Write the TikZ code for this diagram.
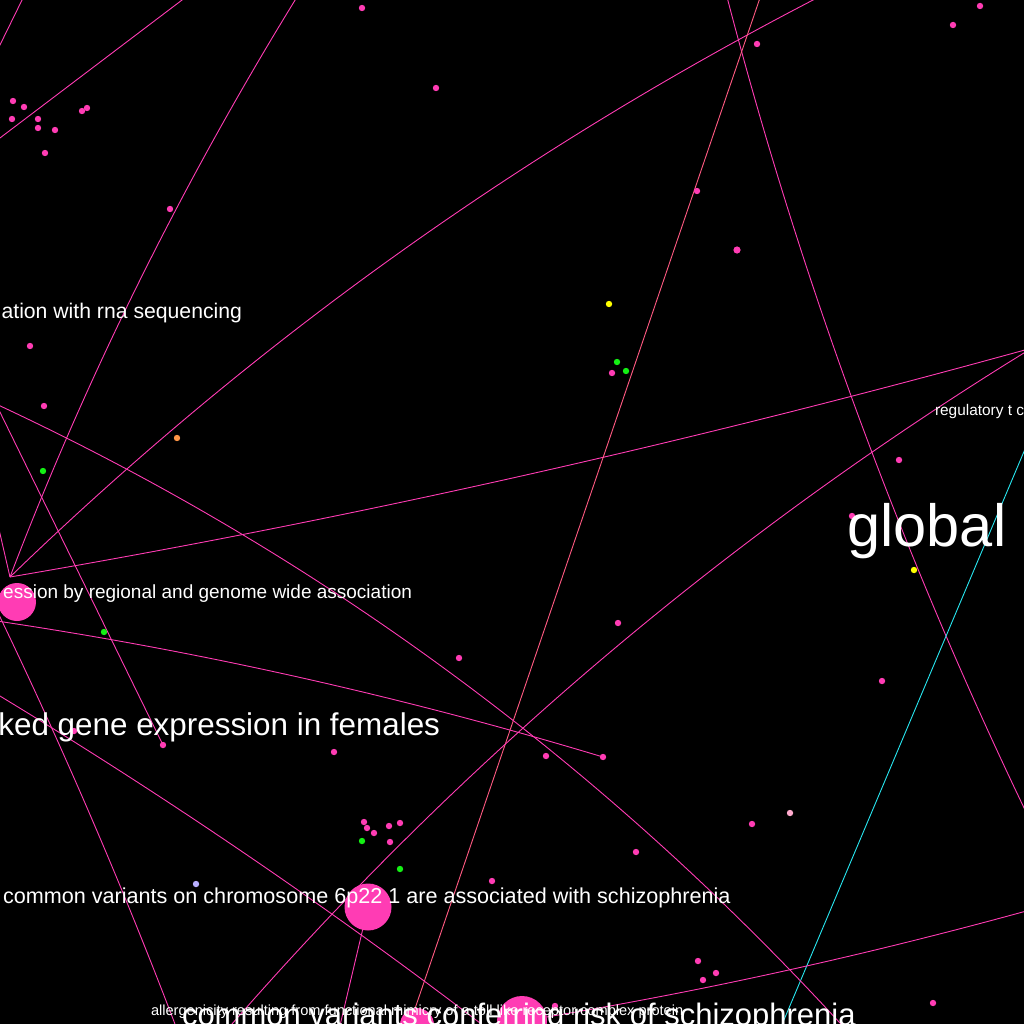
\documentclass[tikz,border=0pt]{standalone}
\usepackage{fontspec}
\setmainfont{Liberation Sans}
\usetikzlibrary{calc}
\definecolor{pk}{RGB}{255,60,180}
\definecolor{salmon}{RGB}{255,90,130}
\definecolor{cyanline}{RGB}{40,230,240}
\definecolor{gr}{RGB}{20,240,20}
\definecolor{yl}{RGB}{255,255,0}
\definecolor{orng}{RGB}{255,150,70}
\definecolor{lpurple}{RGB}{185,175,255}
\definecolor{lpink}{RGB}{255,170,205}
\tikzset{
  edge/.style={draw=pk, line width=0.9pt},
  dot/.style={circle, fill=pk, inner sep=0pt, minimum size=6.4pt},
  bignode/.style={circle, fill=pk, inner sep=0pt},
  lbl/.style={text=white, inner sep=0pt, outer sep=0pt}
}
\newcommand\qedge[4][]{%
  \coordinate (Qtmp) at ($2*(#3)-0.5*(#2)-0.5*(#4)$);
  \draw[edge,#1] (#2) .. controls ($(#2)!0.6667!(Qtmp)$) and ($(#4)!0.6667!(Qtmp)$) .. (#4);}
\begin{document}
\begin{tikzpicture}[x=1pt,y=-1pt]
\useasboundingbox (0,0) rectangle (1024,1024);
\fill[black] (0,0) rectangle (1024,1024);
\clip (0,0) rectangle (1024,1024);

% off-canvas / hidden end points
\coordinate (LC) at (10,577);
\coordinate (L2) at (-4,404);
\coordinate (R1) at (1032,348);
\coordinate (e1a) at (-3,51);   \coordinate (e1b) at (25,-6);
\coordinate (e2a) at (-6,142.5);\coordinate (e2b) at (188,-4.5);
\coordinate (t3) at (297,-3);
\coordinate (t4) at (815,-1);
\coordinate (t6) at (727,-3);
\coordinate (t7) at (762,-8);   \coordinate (b7) at (407,1032);
\coordinate (c8a) at (1028,442);\coordinate (c8b) at (778,1034);
\coordinate (b9) at (225,1032);
\coordinate (b6) at (1026,812);
\coordinate (b10) at (850,1034);
\coordinate (l12) at (-10,620);
\coordinate (l13) at (-10,690); \coordinate (b13) at (497,1036);
\coordinate (r14) at (1030,910);
\coordinate (b15) at (338,1034);
\coordinate (l16) at (-5,512);
\coordinate (l17) at (-13,590); \coordinate (b17) at (178,1032);

% big nodes (positions used by edges)
\coordinate (B0) at (17,602);
\coordinate (B1) at (368,907);
\coordinate (B2) at (417,1025);
\coordinate (B3) at (522,1021);
\coordinate (D163) at (163,745);
\coordinate (D603) at (603,757);

% edges
\draw[edge] (e1a) -- (e1b);
\draw[edge] (e2a) -- (e2b);
\qedge{t3}{139,282}{LC}
\qedge{t4}{390.4,259.1}{LC}
\qedge{R1}{517,477}{LC}
\qedge{t6}{856.6,411.1}{b6}
\draw[edge, draw=salmon] (t7) -- (b7);
\draw[edge, draw=cyanline] (c8a) -- (c8b);
\qedge{R1}{602,659}{b9}
\qedge{L2}{452.9,674.7}{b10}
\draw[edge] (L2) -- (D163);
\qedge{l12}{298,677}{D603}
\qedge{l13}{248.4,855.9}{b13}
\qedge{r14}{775,973}{B3}
\draw[edge] (B1) -- (b15);
\draw[edge] (l16) -- (LC);
\qedge{l17}{88,810}{b17}

% small nodes
\foreach \x/\y [count=\i] in {13/101,24/107,12/119,38/119,38/128,55/130,45/153,82/111,87/108,
  362/8,436/88,170/209,757/44,953/25,980/6,697/191,612/373,30/346,44/406,899/460,852/516,
  618/623,459/658,882/681,163/745,74/731,334/752,546/756,603/757,752/824,636/852,
  364/822,367/828,374/833,389/826,400/823,390/842,492/881,698/961,716/973,703/980,933/1003,555/1006}
  \node[dot] (pk\i) at (\x,\y) {};
\node[dot, minimum size=7.2pt] (pkbig) at (737,250) {};
\foreach \x/\y [count=\i] in {617/362,626/371,43/471,104/632,362/841,400/869}
  \node[dot, fill=gr] (gr\i) at (\x,\y) {};
\node[dot, fill=yl] (yl1) at (609,304) {};
\node[dot, fill=yl] (yl2) at (914,570) {};
\node[dot, fill=orng] (or1) at (177,438) {};
\node[dot, fill=lpurple] (lp1) at (196,884) {};
\node[dot, fill=lpink] (lk1) at (790,813) {};

% big nodes
\node[bignode, minimum size=38pt] (n0) at (B0) {};
\node[bignode, minimum size=47pt] (n1) at (B1) {};
\node[bignode, minimum size=34pt] (n2) at (B2) {};
\node[bignode, minimum size=50pt] (n3) at (B3) {};

% labels
\node[lbl, anchor=base east, font=\fontsize{21.2}{25}\selectfont] (t1) at (242,318) {ation with rna sequencing};
\node[lbl, anchor=base east, font=\fontsize{19}{23}\selectfont] (t2) at (412,598) {ession by regional and genome wide association};
\node[lbl, anchor=base east, font=\fontsize{31.4}{36}\selectfont] (t3l) at (440,735) {ked gene expression in females};
\node[lbl, anchor=base west, font=\fontsize{21.6}{25}\selectfont] (t4l) at (3,903) {common variants on chromosome 6p22 1 are associated with schizophrenia};
\node[lbl, anchor=base west, font=\fontsize{31}{36}\selectfont] (t5l) at (182,1025) {common variants conferring risk of schizophrenia};
\node[lbl, anchor=base west, font=\fontsize{14.6}{17}\selectfont] (t6l) at (151,1015) {allergenicity resulting from functional mimicry of a toll like receptor complex protein};
\node[lbl, anchor=base west, font=\fontsize{15.4}{18}\selectfont] (t7l) at (935,415) {regulatory t c};
\node[lbl, anchor=base west, font=\fontsize{59.5}{66}\selectfont] (t8l) at (847.5,546) {global};
\end{tikzpicture}
\end{document}
